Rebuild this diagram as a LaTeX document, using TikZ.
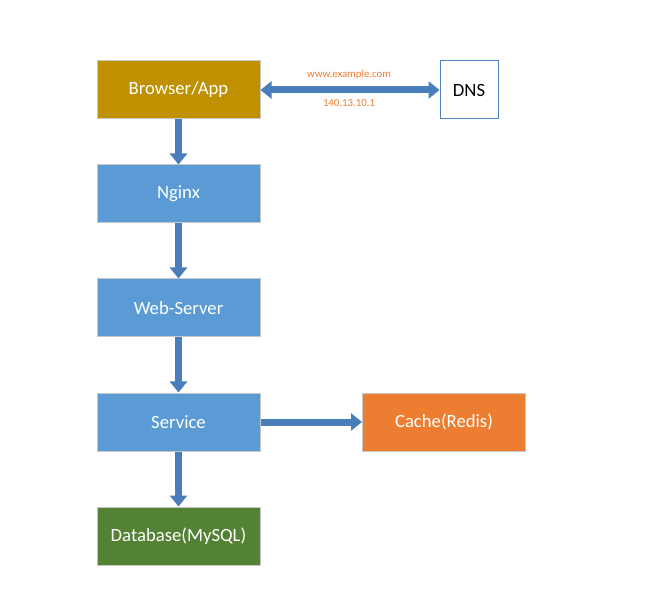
\documentclass[tikz,border=0pt]{standalone}
\usepackage{fontspec}
\setmainfont{Carlito}
\usetikzlibrary{arrows.meta}
\definecolor{gold}{HTML}{BF9000}
\definecolor{bluebox}{HTML}{5B9BD5}
\definecolor{orangebox}{HTML}{ED7D31}
\definecolor{greenbox}{HTML}{548235}
\definecolor{arrowblue}{HTML}{4A7EBB}
\definecolor{dnsborder}{HTML}{4F81BD}
\definecolor{lbl}{HTML}{ED7D31}
\tikzset{
  box/.style={draw=black!22, line width=1pt, minimum width=163pt, minimum height=58pt, inner sep=0pt, text=white, font=\fontsize{18.7}{22}\selectfont},
  fat/.style={draw=arrowblue, line width=7pt, -{Triangle[width=17pt,length=11pt]}},
  fatboth/.style={draw=arrowblue, line width=7pt, {Triangle[width=17pt,length=11pt]}-{Triangle[width=17pt,length=11pt]}},
  lab/.style={text=lbl, font=\fontsize{10.8}{13}\selectfont, inner sep=0pt}
}
\begin{document}
\begin{tikzpicture}[x=1pt,y=-1pt]
\useasboundingbox[fill=white] (0,0) rectangle (654,604);
\node[box, fill=gold] (browser) at (178.5,90) {Browser/App};
\node[box, fill=bluebox] (nginx) at (178.5,194) {Nginx};
\node[box, fill=bluebox] (web) at (178.5,308) {Web-Server};
\node[box, fill=bluebox] (service) at (178.5,422) {Service};
\node[box, fill=greenbox] (db) at (178.5,536) {Database(MySQL)};
\node[box, fill=orangebox] (cache) at (444,422) {Cache(Redis)};
\node[draw=dnsborder, line width=1pt, fill=white, minimum width=58pt, minimum height=58pt, inner sep=0pt, font=\fontsize{18.7}{22}\selectfont] (dns) at (469,90) {DNS};
\draw[fat] (browser.south) -- (nginx.north);
\draw[fat] (nginx.south) -- (web.north);
\draw[fat] (web.south) -- (service.north);
\draw[fat] (service.south) -- (db.north);
\draw[fat] (service.east) -- (cache.west);
\draw[fatboth] (browser.east) -- (dns.west);
\node[lab] (url) at (349,75) {www.example.com};
\node[lab] (ip) at (349,103) {140.13.10.1};
\end{tikzpicture}
\end{document}
